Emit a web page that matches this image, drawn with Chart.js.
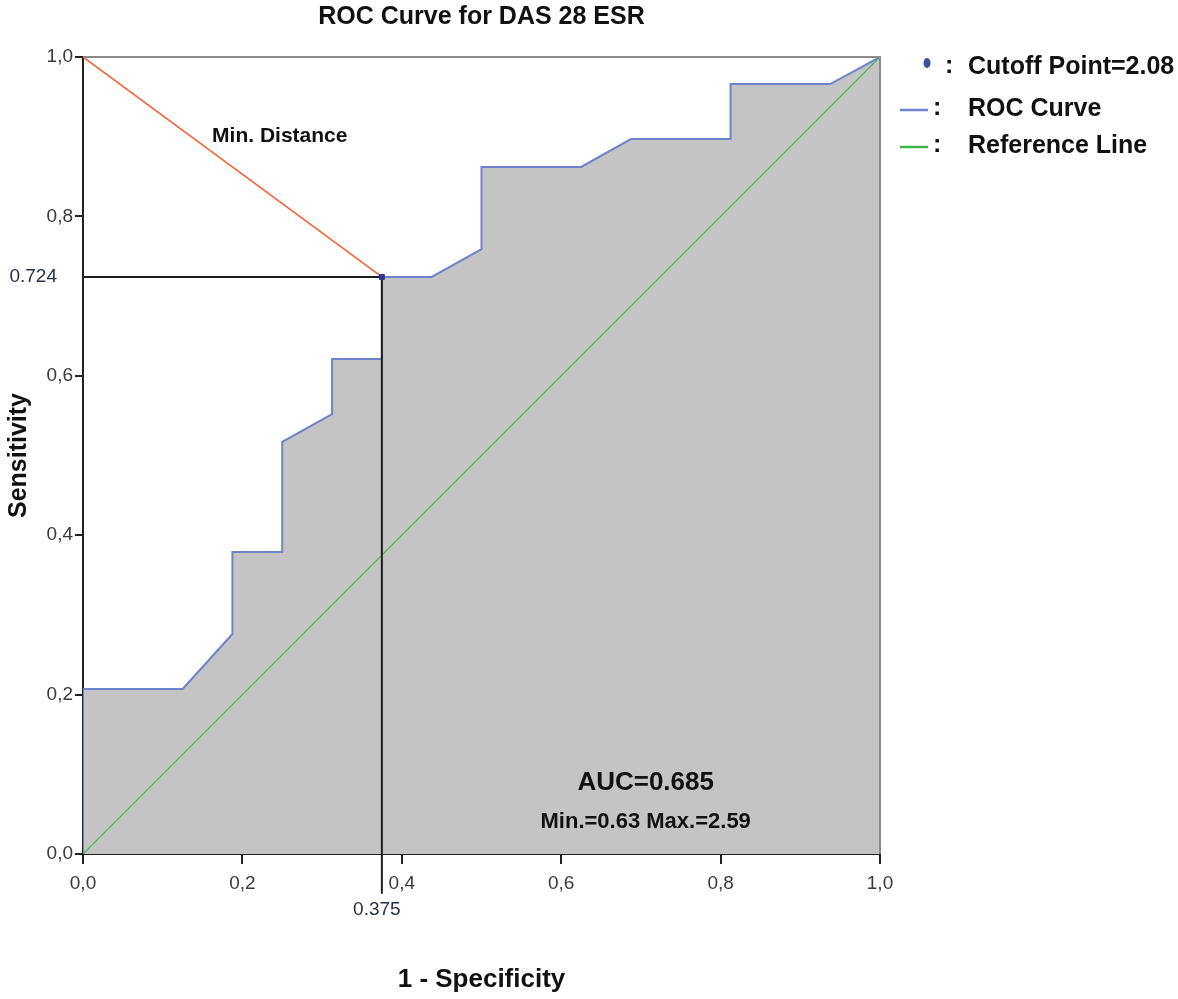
<!DOCTYPE html>
<html>
<head>
<meta charset="utf-8">
<title>ROC Curve for DAS 28 ESR</title>
<script src="https://cdn.jsdelivr.net/npm/chart.js@4.4.1/dist/chart.umd.min.js"></script>
<style>
  html, body { margin: 0; padding: 0; background: #fff; }
  #wrap { width: 1178px; height: 999px; }
</style>
</head>
<body>
<div id="wrap"><canvas id="rocChart"></canvas></div>
<script>
// ROC curve (1 - specificity, sensitivity)
const rocX = [0, 0, 0.125, 0.1875, 0.1875, 0.25, 0.25, 0.3125, 0.3125, 0.375, 0.375, 0.4375, 0.5, 0.5, 0.625, 0.6875, 0.8125, 0.8125, 0.9375, 1];
const rocY = [0, 0.207, 0.207, 0.276, 0.379, 0.379, 0.517, 0.552, 0.621, 0.621, 0.724, 0.724, 0.759, 0.862, 0.862, 0.897, 0.897, 0.966, 0.966, 1];

const refX = [0, 1];
const refY = [0, 1];

const cutoffX = 0.375;
const cutoffY = 0.724;
const cutoffValue = "2.08";
const aucText = "AUC=0.685";
const rangeText = "Min.=0.63 Max.=2.59";

// guide lines from the axes to the cutoff point (vertical one runs past the axis)
const guideX = [0, cutoffX, cutoffX];
const guideY = [cutoffY, cutoffY, -0.05];

const distX = [0, cutoffX];
const distY = [1, cutoffY];

const tickValues = [0, 0.2, 0.4, 0.6, 0.8, 1.0];

const pts = (xs, ys) => xs.map((v, i) => ({ x: v, y: ys[i] }));
const fmt = v => v.toFixed(1).replace(".", ",");
const FONT = "'Liberation Sans', Arial, sans-serif";

const extras = {
  id: "extras",
  afterDraw(chart) {
    const { ctx, chartArea: a, scales: { x, y } } = chart;
    ctx.save();

    // top and right frame
    ctx.strokeStyle = "#8c8c8c";
    ctx.lineWidth = 2;
    ctx.beginPath();
    ctx.moveTo(a.left, a.top);
    ctx.lineTo(a.right, a.top);
    ctx.lineTo(a.right, a.bottom);
    ctx.stroke();

    ctx.fillStyle = "#111";
    ctx.textBaseline = "middle";

    ctx.font = "bold 21px " + FONT;
    ctx.textAlign = "left";
    ctx.fillText("Min. Distance", x.getPixelForValue(0.162), y.getPixelForValue(0.901));

    ctx.textAlign = "center";
    ctx.font = "bold 26px " + FONT;
    ctx.fillText(aucText, x.getPixelForValue(0.706), y.getPixelForValue(0.089));
    ctx.font = "bold 22px " + FONT;
    ctx.fillText(rangeText, x.getPixelForValue(0.706), y.getPixelForValue(0.04));

    // cutoff values on the axes
    ctx.fillStyle = "#2a2f45";
    ctx.font = "19px " + FONT;
    ctx.textAlign = "right";
    ctx.fillText(String(cutoffY), a.left - 26, y.getPixelForValue(cutoffY));
    ctx.textAlign = "center";
    ctx.fillText(String(cutoffX), x.getPixelForValue(cutoffX) - 5, y.getPixelForValue(-0.07));

    // legend
    ctx.fillStyle = "#111";
    ctx.font = "bold 25px " + FONT;
    ctx.textAlign = "left";
    ctx.fillText(":", 945, 66);
    ctx.fillText("Cutoff Point=" + cutoffValue, 968, 67);
    ctx.fillText(":", 933, 108);
    ctx.fillText("ROC Curve", 968, 109);
    ctx.fillText(":", 933, 145);
    ctx.fillText("Reference Line", 968, 146);

    ctx.fillStyle = "#3d4fa3";
    ctx.beginPath();
    ctx.ellipse(927, 63, 3.5, 5, 0, 0, Math.PI * 2);
    ctx.fill();

    ctx.lineWidth = 2.5;
    ctx.strokeStyle = "#6f82cc";
    ctx.beginPath(); ctx.moveTo(900, 110); ctx.lineTo(928, 110); ctx.stroke();
    ctx.strokeStyle = "#3db54a";
    ctx.beginPath(); ctx.moveTo(900, 147); ctx.lineTo(928, 147); ctx.stroke();

    ctx.restore();
  }
};

const axis = (titleText, isY) => ({
  type: "linear",
  min: 0,
  max: 1,
  z: 1,
  afterBuildTicks: s => { s.ticks = tickValues.map(v => ({ value: v })); },
  afterFit: s => { if (isY) s.width = 83; else s.height = 145; },
  border: { display: true, color: "#222", width: 2 },
  grid: { display: true, drawOnChartArea: false, drawTicks: true, tickLength: isY ? 8 : 10, color: "#222", lineWidth: 2 },
  ticks: {
    padding: isY ? 2 : 8,
    color: "#3a3a3a",
    font: { family: FONT, size: 19 },
    callback: v => fmt(v),
    autoSkip: false,
    maxRotation: 0
  },
  title: {
    display: true,
    text: titleText,
    color: "#111",
    font: { family: FONT, size: isY ? 25 : 26, weight: "bold" },
    padding: isY ? { top: 4, bottom: 0 } : { top: 0, bottom: 4 }
  }
});

const ctx = document.getElementById("rocChart").getContext("2d");

const rocChart = new Chart(ctx, {
  type: "scatter",
  data: {
    datasets: [
      { label: "Cutoff Point", data: [{ x: cutoffX, y: cutoffY }], pointStyle: "rect", pointRadius: 3.5,
        backgroundColor: "#2b3990", borderColor: "#2b3990", order: 1 },
      { label: "Min. Distance", data: pts(distX, distY), showLine: true, borderColor: "#f4623a",
        borderWidth: 1.6, pointRadius: 0, order: 2 },
      { label: "Guides", data: pts(guideX, guideY), showLine: true, borderColor: "#1e1e1e",
        borderWidth: 2, pointRadius: 0, clip: false, order: 3 },
      { label: "Reference Line", data: pts(refX, refY), showLine: true, borderColor: "#45b649",
        borderWidth: 1.2, pointRadius: 0, order: 4 },
      { label: "ROC Curve", data: pts(rocX, rocY), showLine: true, borderColor: "#6f82cc",
        backgroundColor: "#c4c4c4", fill: "origin", borderWidth: 2, pointRadius: 0, order: 5 }
    ]
  },
  options: {
    responsive: true,
    maintainAspectRatio: false,
    animation: false,
    layout: { padding: { left: 0, right: 298, top: 0, bottom: 0 } },
    scales: {
      x: axis("1 - Specificity", false),
      y: axis("Sensitivity", true)
    },
    plugins: {
      legend: { display: false },
      tooltip: { enabled: false },
      title: {
        display: true,
        fullSize: false,
        text: "ROC Curve for DAS 28 ESR",
        color: "#111",
        font: { family: FONT, size: 25, weight: "bold" },
        padding: { top: 2, bottom: 25 }
      }
    }
  },
  plugins: [extras]
});
</script>
</body>
</html>
